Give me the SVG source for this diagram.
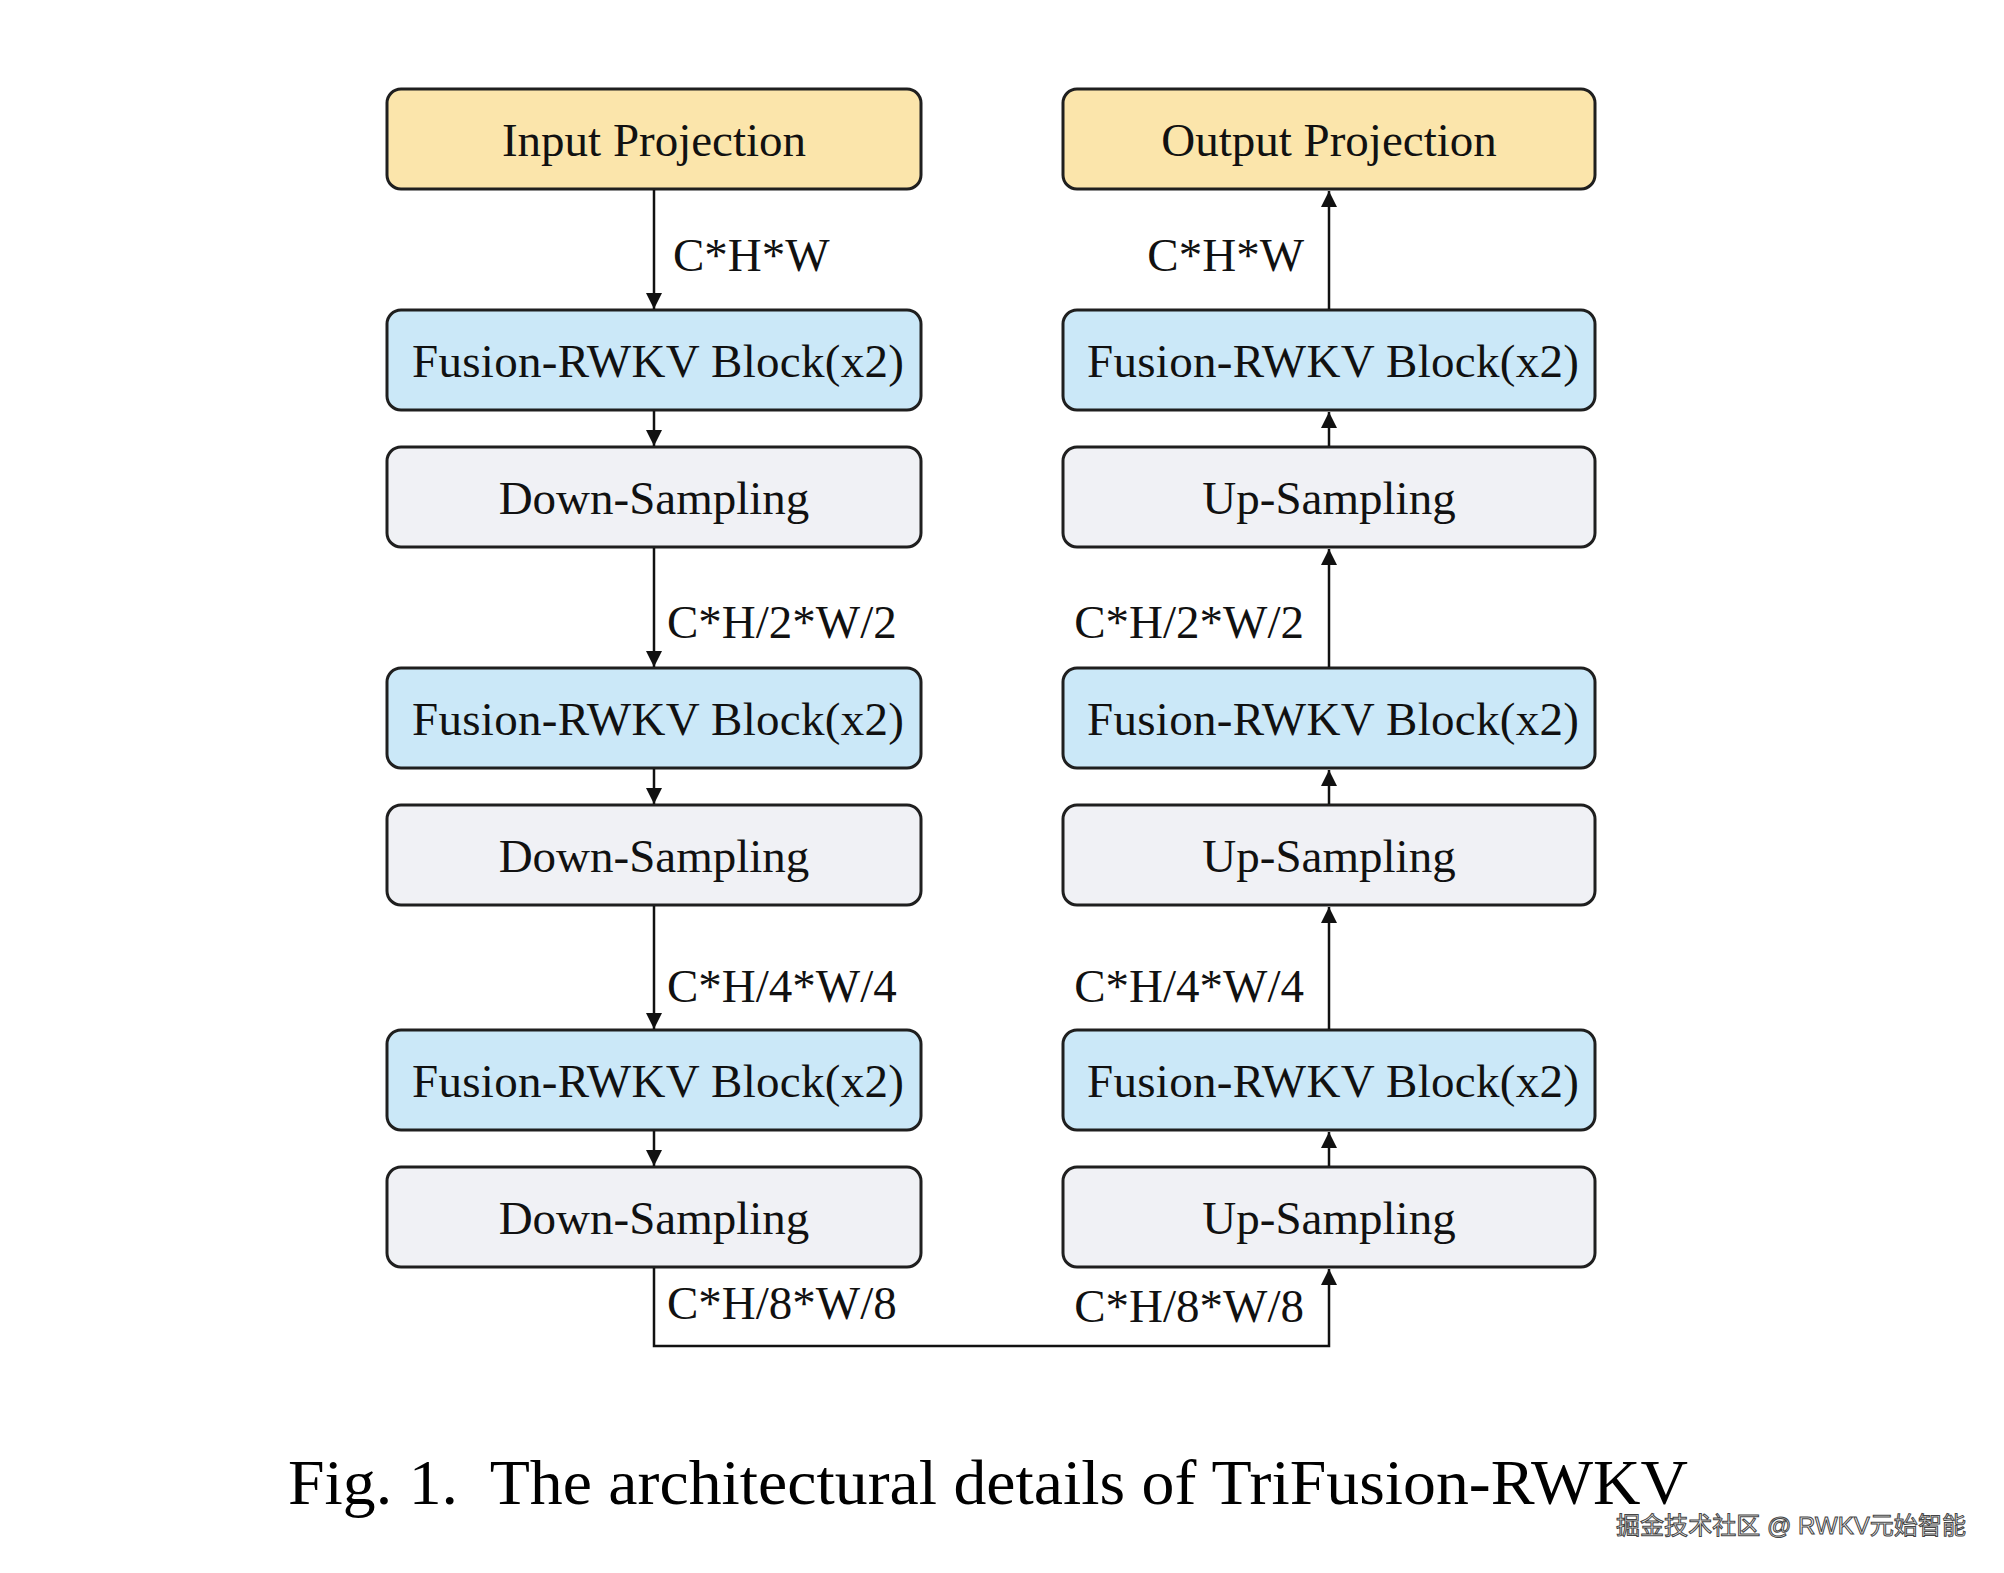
<svg xmlns="http://www.w3.org/2000/svg" width="2004" height="1573" viewBox="0 0 2004 1573">
<defs>
<style>
.box{stroke:#1f1f1f;stroke-width:3}
.proj{fill:#fbe5ab}
.fus{fill:#cbe8f8}
.smp{fill:#f0f1f5}
.t{font-family:"Liberation Serif","Times New Roman",serif;font-size:47px;fill:#111;text-anchor:middle}
.lbl{font-family:"Liberation Serif","Times New Roman",serif;font-size:47px;fill:#111}
.con{fill:none;stroke:#111;stroke-width:2.5}
</style>
<marker id="ah" viewBox="0 0 16 16" refX="16" refY="8" markerWidth="16" markerHeight="16" markerUnits="userSpaceOnUse" orient="auto">
<path d="M0,0 L16,8 L0,16 z" fill="#111"/>
</marker>
</defs>
<rect width="2004" height="1573" fill="#ffffff"/>

<g id="input-projection"><rect class="box proj" x="387" y="89" width="534" height="100" rx="14"/><text class="t" x="654" y="156">Input Projection</text></g>
<g id="fusion-l1"><rect class="box fus" x="387" y="310" width="534" height="100" rx="14"/><text class="t" x="658" y="377" textLength="492" lengthAdjust="spacing">Fusion-RWKV Block(x2)</text></g>
<g id="down-1"><rect class="box smp" x="387" y="447" width="534" height="100" rx="14"/><text class="t" x="654" y="514">Down-Sampling</text></g>
<g id="fusion-l2"><rect class="box fus" x="387" y="668" width="534" height="100" rx="14"/><text class="t" x="658" y="735" textLength="492" lengthAdjust="spacing">Fusion-RWKV Block(x2)</text></g>
<g id="down-2"><rect class="box smp" x="387" y="805" width="534" height="100" rx="14"/><text class="t" x="654" y="872">Down-Sampling</text></g>
<g id="fusion-l3"><rect class="box fus" x="387" y="1030" width="534" height="100" rx="14"/><text class="t" x="658" y="1097" textLength="492" lengthAdjust="spacing">Fusion-RWKV Block(x2)</text></g>
<g id="down-3"><rect class="box smp" x="387" y="1167" width="534" height="100" rx="14"/><text class="t" x="654" y="1234">Down-Sampling</text></g>

<g id="output-projection"><rect class="box proj" x="1063" y="89" width="532" height="100" rx="14"/><text class="t" x="1329" y="156">Output Projection</text></g>
<g id="fusion-r1"><rect class="box fus" x="1063" y="310" width="532" height="100" rx="14"/><text class="t" x="1333" y="377" textLength="492" lengthAdjust="spacing">Fusion-RWKV Block(x2)</text></g>
<g id="up-1"><rect class="box smp" x="1063" y="447" width="532" height="100" rx="14"/><text class="t" x="1329" y="514">Up-Sampling</text></g>
<g id="fusion-r2"><rect class="box fus" x="1063" y="668" width="532" height="100" rx="14"/><text class="t" x="1333" y="735" textLength="492" lengthAdjust="spacing">Fusion-RWKV Block(x2)</text></g>
<g id="up-2"><rect class="box smp" x="1063" y="805" width="532" height="100" rx="14"/><text class="t" x="1329" y="872">Up-Sampling</text></g>
<g id="fusion-r3"><rect class="box fus" x="1063" y="1030" width="532" height="100" rx="14"/><text class="t" x="1333" y="1097" textLength="492" lengthAdjust="spacing">Fusion-RWKV Block(x2)</text></g>
<g id="up-3"><rect class="box smp" x="1063" y="1167" width="532" height="100" rx="14"/><text class="t" x="1329" y="1234">Up-Sampling</text></g>

<g id="connectors">
<line class="con" x1="654" y1="190" x2="654" y2="309" marker-end="url(#ah)"/>
<line class="con" x1="654" y1="411" x2="654" y2="446" marker-end="url(#ah)"/>
<line class="con" x1="654" y1="548" x2="654" y2="667" marker-end="url(#ah)"/>
<line class="con" x1="654" y1="769" x2="654" y2="804" marker-end="url(#ah)"/>
<line class="con" x1="654" y1="906" x2="654" y2="1029" marker-end="url(#ah)"/>
<line class="con" x1="654" y1="1131" x2="654" y2="1166" marker-end="url(#ah)"/>
<path class="con" d="M654,1268 V1346 H1329 V1269" marker-end="url(#ah)"/>
<line class="con" x1="1329" y1="1166" x2="1329" y2="1132" marker-end="url(#ah)"/>
<line class="con" x1="1329" y1="1029" x2="1329" y2="907" marker-end="url(#ah)"/>
<line class="con" x1="1329" y1="804" x2="1329" y2="770" marker-end="url(#ah)"/>
<line class="con" x1="1329" y1="667" x2="1329" y2="549" marker-end="url(#ah)"/>
<line class="con" x1="1329" y1="446" x2="1329" y2="412" marker-end="url(#ah)"/>
<line class="con" x1="1329" y1="309" x2="1329" y2="191" marker-end="url(#ah)"/>
<text class="lbl" x="673" y="271">C*H*W</text>
<text class="lbl" x="1304" y="271" text-anchor="end">C*H*W</text>
<text class="lbl" x="667" y="638">C*H/2*W/2</text>
<text class="lbl" x="1304" y="638" text-anchor="end">C*H/2*W/2</text>
<text class="lbl" x="667" y="1002">C*H/4*W/4</text>
<text class="lbl" x="1304" y="1002" text-anchor="end">C*H/4*W/4</text>
<text class="lbl" x="667" y="1319">C*H/8*W/8</text>
<text class="lbl" x="1304" y="1322" text-anchor="end">C*H/8*W/8</text>
</g>

<text x="288" y="1504" font-family="Liberation Serif, Times New Roman, serif" font-size="64" fill="#000" textLength="1400" lengthAdjust="spacingAndGlyphs" xml:space="preserve">Fig. 1.  The architectural details of TriFusion-RWKV</text>
<text x="1616" y="1534" font-family="Liberation Sans, Noto Sans CJK SC, sans-serif" font-size="24" fill="#f2f2f2" stroke="#444" stroke-width="1" textLength="350" lengthAdjust="spacingAndGlyphs">掘金技术社区 @ RWKV元始智能</text>
</svg>
